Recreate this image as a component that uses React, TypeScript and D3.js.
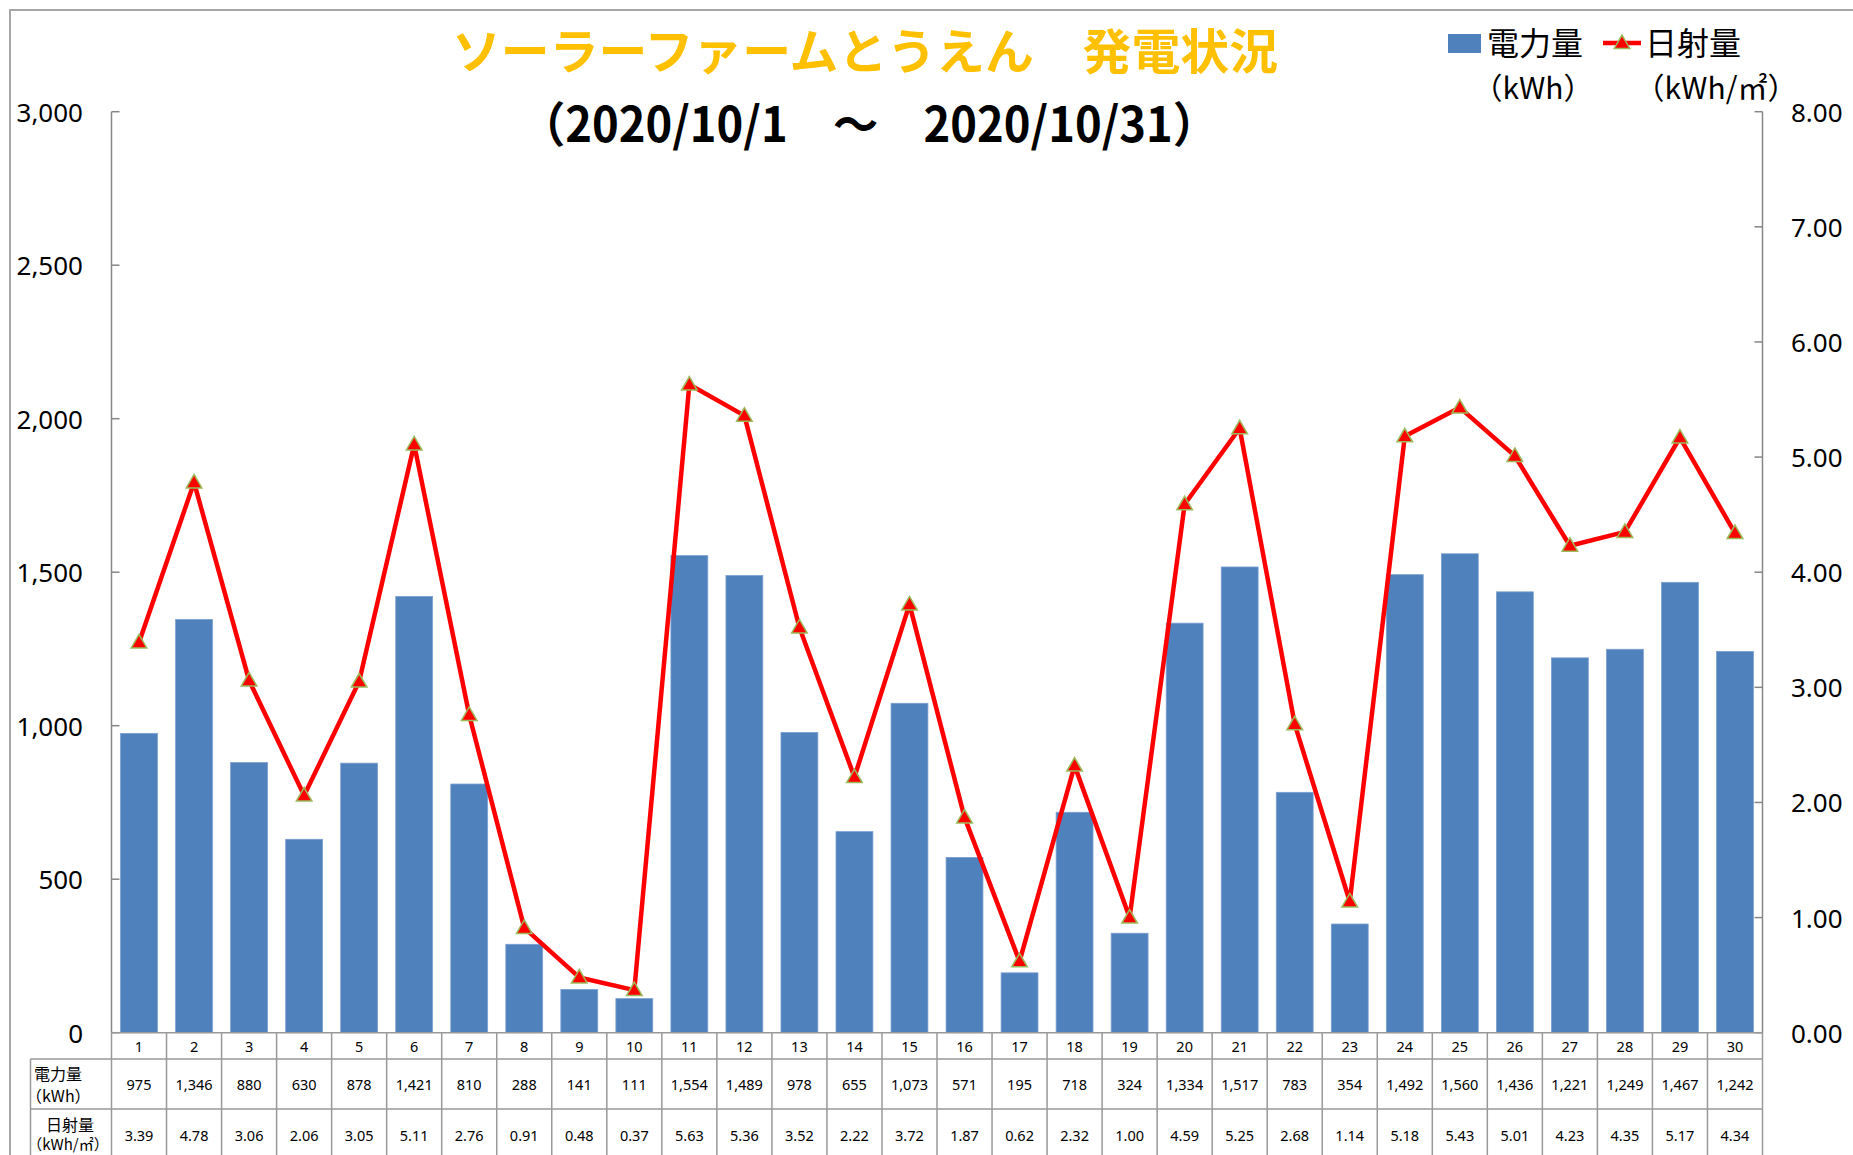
import React from 'react';
import * as d3 from 'd3';

// days of October 2020
const days = ['1', '2', '3', '4', '5', '6', '7', '8', '9', '10', '11', '12', '13', '14', '15',
  '16', '17', '18', '19', '20', '21', '22', '23', '24', '25', '26', '27', '28', '29', '30'];

// 電力量 (kWh)
const power = [975, 1346, 880, 630, 878, 1421, 810, 288, 141, 111, 1554, 1489, 978, 655, 1073,
  571, 195, 718, 324, 1334, 1517, 783, 354, 1492, 1560, 1436, 1221, 1249, 1467, 1242];

// 日射量 (kWh/㎡)
const solar = [3.39, 4.78, 3.06, 2.06, 3.05, 5.11, 2.76, 0.91, 0.48, 0.37, 5.63, 5.36, 3.52, 2.22, 3.72,
  1.87, 0.62, 2.32, 1.00, 4.59, 5.25, 2.68, 1.14, 5.18, 5.43, 5.01, 4.23, 4.35, 5.17, 4.34];

const powerTicks = [0, 500, 1000, 1500, 2000, 2500, 3000];
const solarTicks = [0, 1, 2, 3, 4, 5, 6, 7, 8];

const W = 1853;
const H = 1155;
const left = 111.5;
const right = 1762.5;
const top = 111.7;
const bottom = 1032.7;

const numFont = "'Noto Sans', 'Open Sans', sans-serif";
const jpFont = "'Noto Sans CJK JP', 'Noto Sans', sans-serif";
const gridColor = '#999999';

export default function App() {
  const x = d3.scaleBand<string>()
    .domain(days)
    .range([left, right])
    .paddingInner(0.33)
    .paddingOuter(0.165);
  const yL = d3.scaleLinear().domain([0, 3000]).range([bottom, top]);
  const yR = d3.scaleLinear().domain([0, 8]).range([bottom, top]);
  const cx = (i: number) => (x(days[i]) as number) + x.bandwidth() / 2;

  const line = d3.line<number>()
    .x((_, i) => cx(i))
    .y(d => yR(d));
  const tri = d3.symbol().type(d3.symbolTriangle).size(105)() as string;
  const fmtPower = d3.format(',');
  const fmtSolar = d3.format('.2f');

  const step = x.step();
  const rowTop1 = 1059;
  const rowTop2 = 1109;

  return (
    <div style={{ position: 'absolute', left: 0, top: 0 }}>
      <svg width={W} height={H} style={{ display: 'block', background: '#fff' }}>
        {/* chart frame */}
        <rect x={10} y={10} width={W + 20} height={H + 20} fill="none" stroke="#a6a6a6" strokeWidth={2} />

        {/* title */}
        <text x={452} y={48} fontFamily={jpFont} fontWeight="bold" fontSize={48} fill="#FFC000"
          dominantBaseline="central" textLength={826} lengthAdjust="spacingAndGlyphs">
          ソーラーファームとうえん　発電状況
        </text>
        <text x={520} y={121} fontFamily={jpFont} fontWeight="bold" fontSize={48} fill="#000"
          dominantBaseline="central" textLength={698} lengthAdjust="spacingAndGlyphs">
          （2020/10/1　～　2020/10/31）
        </text>

        {/* legend */}
        <rect x={1448} y={34} width={33} height={19} fill="#4F81BD" />
        <text x={1487} y={41} fontFamily={jpFont} fontSize={32} dominantBaseline="central">電力量</text>
        <text x={1533} y={86} fontFamily={jpFont} fontSize={30} dominantBaseline="central" textAnchor="middle">（kWh）</text>
        <line x1={1603} x2={1641} y1={43} y2={43} stroke="#FF0000" strokeWidth={4.5} />
        <path d={tri} transform="translate(1622,44)" fill="#FF0000" stroke="#9BBB59" strokeWidth={1.5} />
        <text x={1645} y={41} fontFamily={jpFont} fontSize={32} dominantBaseline="central">日射量</text>
        <text x={1716} y={86} fontFamily={jpFont} fontSize={30} dominantBaseline="central" textAnchor="middle">（kWh/㎡）</text>

        {/* bars */}
        {power.map((v, i) => (
          <rect key={'b' + i} x={x(days[i])} y={yL(v)} width={x.bandwidth()} height={bottom - yL(v)}
            fill="#4F81BD" stroke="#7A9FD0" strokeWidth={0.8} />
        ))}

        {/* left axis */}
        <line x1={left} x2={left} y1={top} y2={bottom} stroke="#868686" strokeWidth={1.5} />
        {powerTicks.map(t => (
          <g key={'l' + t}>
            <line x1={left} x2={left + 8} y1={yL(t)} y2={yL(t)} stroke="#868686" strokeWidth={1.5} />
            <text x={83} y={yL(t)} textAnchor="end" dominantBaseline="central" fontFamily={numFont} fontSize={26}>
              {fmtPower(t)}
            </text>
          </g>
        ))}

        {/* right axis */}
        <line x1={right} x2={right} y1={top} y2={bottom} stroke="#868686" strokeWidth={1.5} />
        {solarTicks.map(t => (
          <g key={'r' + t}>
            <line x1={right - 8} x2={right} y1={yR(t)} y2={yR(t)} stroke="#868686" strokeWidth={1.5} />
            <text x={1791} y={yR(t)} textAnchor="start" dominantBaseline="central" fontFamily={numFont} fontSize={26}>
              {fmtSolar(t)}
            </text>
          </g>
        ))}

        {/* solar line */}
        <path d={line(solar) as string} fill="none" stroke="#FF0000" strokeWidth={4.5} strokeLinejoin="round" />
        {solar.map((v, i) => (
          <path key={'m' + i} d={tri} transform={`translate(${cx(i)},${yR(v) + 1})`}
            fill="#FF0000" stroke="#9BBB59" strokeWidth={1.5} />
        ))}

        {/* data table */}
        <g stroke={gridColor} strokeWidth={1.5}>
          <line x1={left} x2={right} y1={bottom} y2={bottom} />
          <line x1={30.5} x2={right} y1={rowTop1} y2={rowTop1} />
          <line x1={30.5} x2={right} y1={rowTop2} y2={rowTop2} />
          <line x1={30.5} x2={30.5} y1={rowTop1} y2={H} />
          {d3.range(days.length + 1).map(i => (
            <line key={'v' + i} x1={left + i * step} x2={left + i * step} y1={bottom} y2={H} />
          ))}
        </g>
        {days.map((d, i) => (
          <g key={'t' + i} fontFamily={numFont} fontSize={14.5} textAnchor="middle" dominantBaseline="central">
            <text x={cx(i)} y={1046}>{d}</text>
            <text x={cx(i)} y={1084}>{fmtPower(power[i])}</text>
            <text x={cx(i)} y={1135}>{fmtSolar(solar[i])}</text>
          </g>
        ))}
        <g fontFamily={jpFont} fontSize={16}>
          <text x={34} y={1073} dominantBaseline="central">電力量</text>
          <text x={26} y={1095} dominantBaseline="central">（kWh）</text>
          <text x={70} y={1124} dominantBaseline="central" textAnchor="middle">日射量</text>
          <text x={68} y={1143} dominantBaseline="central" textAnchor="middle" fontSize={15}>（kWh/㎡）</text>
        </g>
      </svg>
    </div>
  );
}
